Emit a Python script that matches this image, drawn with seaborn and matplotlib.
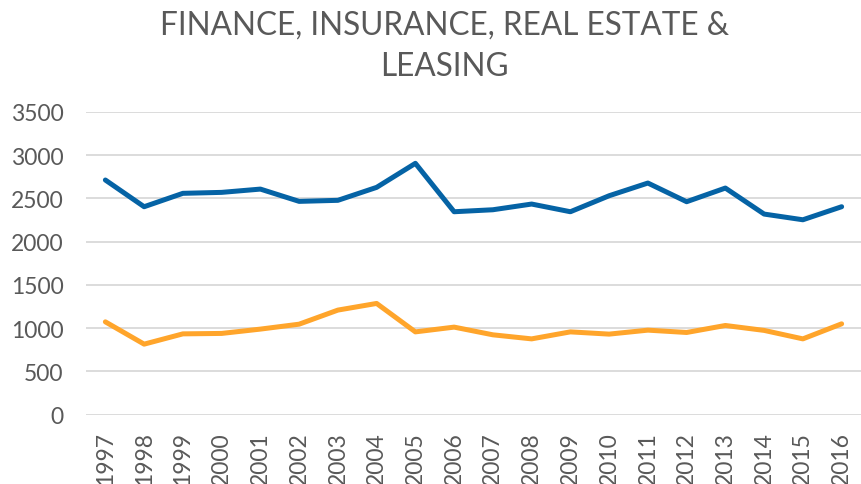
import matplotlib
matplotlib.use("Agg")
import matplotlib.pyplot as plt
import seaborn as sns
import pandas as pd

years = [str(y) for y in range(1997, 2017)]
series_a = [2713, 2404, 2559, 2570, 2608, 2466, 2478, 2628, 2906, 2346,
            2369, 2435, 2346, 2531, 2678, 2462, 2620, 2319, 2253, 2404]
series_b = [1072, 814, 933, 938, 988, 1045, 1208, 1285, 956, 1011,
            922, 875, 956, 930, 976, 949, 1030, 973, 875, 1049]
y_ticks = [0, 500, 1000, 1500, 2000, 2500, 3000, 3500]
title_lines = ["FINANCE, INSURANCE, REAL ESTATE &", "LEASING"]

sns.set_theme(style="white")
plt.rcParams['font.family'] = ['Lato', 'DejaVu Sans']

df = pd.DataFrame({
    "year": years * 2,
    "value": series_a + series_b,
    "series": ["A"] * len(years) + ["B"] * len(years),
})

fig = plt.figure(figsize=(8.61, 4.85), dpi=100)
ax = fig.add_axes([86 / 861, 1 - 415.5 / 485, (861 - 86) / 861, (415.5 - 113) / 485])

sns.lineplot(data=df, x="year", y="value", hue="series",
             palette={"A": "#0563A5", "B": "#FFA52B"}, linewidth=3.6,
             legend=False, ax=ax, sort=False)

ax.set_ylim(0, 3500)
ax.set_xlim(-0.5, 19.5)
ax.set_yticks(y_ticks)
ax.set_yticklabels([str(t) for t in y_ticks])
ax.grid(axis="y", color="#D9D9D9", linewidth=1.3)
ax.set_axisbelow(True)
for s in ax.spines.values():
    s.set_visible(False)
ax.set_xlabel("")
ax.set_ylabel("")
ax.tick_params(axis="y", length=0, pad=16, labelsize=16.5, labelcolor="#595959")
ax.tick_params(axis="x", length=0, pad=12, labelsize=16.5, labelcolor="#595959", rotation=90)

cx = 0.5 * (162 + 727) / 861
fig.text(cx, 1 - 35 / 485, title_lines[0], ha="center", va="baseline",
         fontsize=22.7, color="#595959")
fig.text(cx, 1 - 76 / 485, title_lines[1], ha="center", va="baseline",
         fontsize=22.7, color="#595959")

fig.savefig("out.png", dpi=100, facecolor="white")
